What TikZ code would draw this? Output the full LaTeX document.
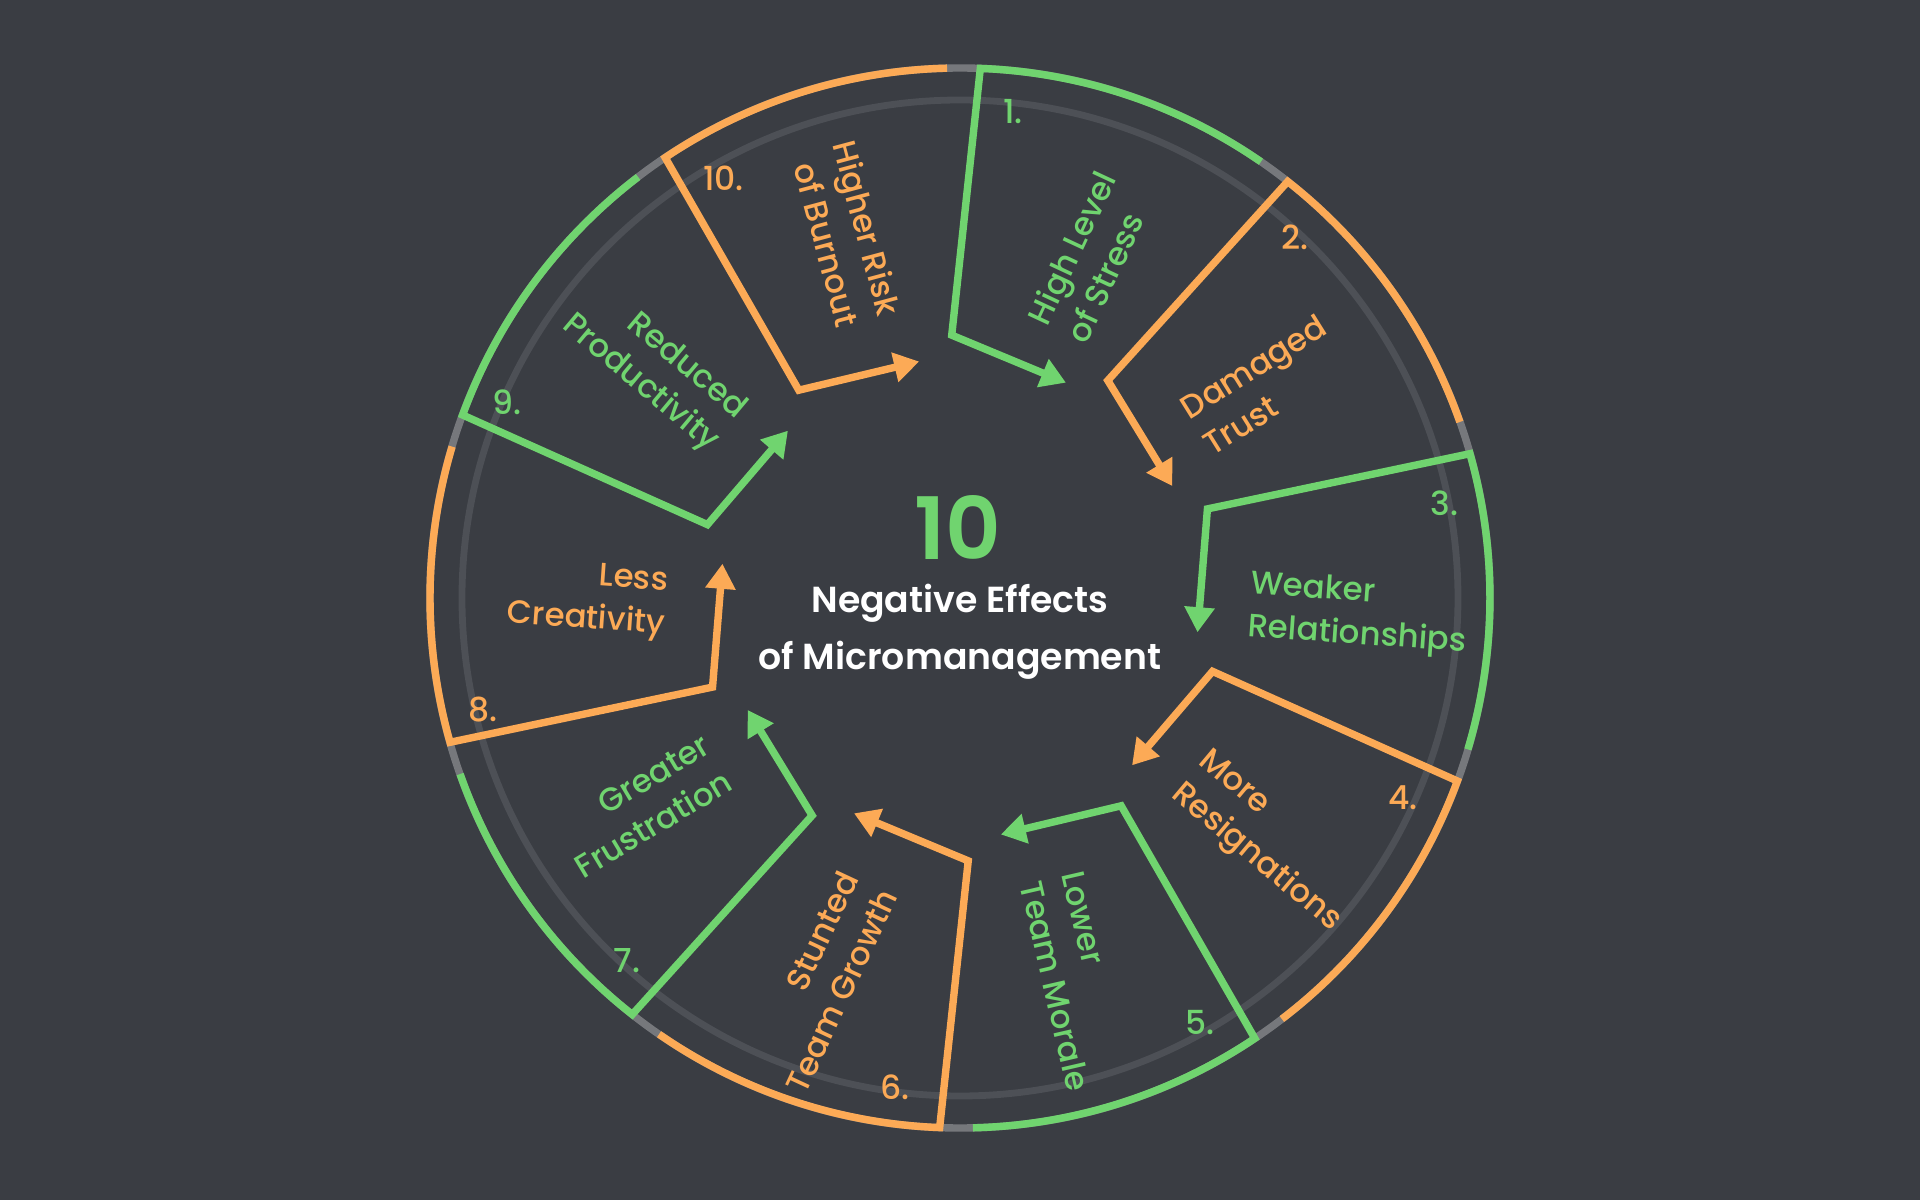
\documentclass[tikz,border=0pt]{standalone}
\usepackage{fontspec}
\setmainfont{Poppins}[UprightFont={* Medium},BoldFont={* SemiBold}]
\usetikzlibrary{arrows.meta}

\definecolor{bg}{HTML}{3A3D43}
\definecolor{mgreen}{HTML}{70D46F}
\definecolor{morange}{HTML}{FCAA56}
\definecolor{ring}{HTML}{4D5056}
\definecolor{gap}{HTML}{76787C}

\begin{document}
\begin{tikzpicture}[
  x=0.01cm,y=0.01cm,
  link/.style={line width=0.74mm,-{Triangle[length=2.5mm,width=2.9mm]}},
  num/.style={font=\fontsize{9.4}{12}\selectfont,inner sep=0pt},
  effect/.style={font=\fontsize{9.2}{12.2}\selectfont,inner sep=0pt},
  title/.style={font=\fontsize{10.3}{16.1}\selectfont\bfseries,inner sep=0pt,align=center}
]
  % Background
  \fill[bg] (-960,-602) rectangle (960,598);
  \useasboundingbox (-960,-602) rectangle (960,598);

  % Rings
  \draw[gap,line width=0.74mm] (0,0) circle[radius=530];
  \draw[ring,line width=0.68mm] (0,0) circle[radius=498];

  % Sectors: outer arc, bend, arrow towards the centre
  \foreach \i/\c in {1/mgreen,2/morange,3/mgreen,4/morange,5/mgreen,
                     6/morange,7/mgreen,8/morange,9/mgreen,10/morange}{
    \pgfmathsetmacro{\a}{87.8-36*(\i-1)}
    \pgfmathsetmacro{\b}{\a-32.4}
    \pgfmathsetmacro{\qa}{\a+4}
    \pgfmathsetmacro{\ta}{\a-24}
    \coordinate (e\i) at (\b:530);
    \coordinate (q\i) at (\qa:263);
    \coordinate (t\i) at (\ta:240);
    \draw[link,\c] (e\i) arc[start angle=\b,end angle=\a,radius=530] -- (q\i) -- (t\i);
  }

  % Numbers
  \foreach \i/\c/\ang/\r in {1/mgreen/83.8/489,2/morange/47.1/492,3/mgreen/11.1/494,
                            4/morange/-24.3/486,5/mgreen/-60.5/488,6/morange/-97.6/494,
                            7/mgreen/-132.6/492,8/morange/-166.8/490,9/mgreen/156.6/494,
                            10/morange/119.4/482}{
    \node[num,\c] (n\i) at (\ang:\r) {\i.};
  }

  % Effects
  \node[effect,mgreen,anchor=west,rotate=65,align=left] (stress) at (70.2:283) {High Level\\of Stress};
  \node[effect,morange,anchor=west,rotate=32,align=left] (trust) at (35.9:289) {Damaged\\Trust};
  \node[effect,mgreen,anchor=west,rotate=-4,align=left] (relations) at (-1.8:289) {Weaker\\Relationships};
  \node[effect,morange,anchor=west,rotate=-40,align=left] (resign) at (-37.7:288) {More\\Resignations};
  \node[effect,mgreen,anchor=west,rotate=-77,align=left] (morale) at (-71.8:293) {Lower\\Team Morale};
  \node[effect,morange,anchor=east,rotate=65,align=right] (growth) at (-107.9:298) {Stunted\\Team Growth};
  \node[effect,mgreen,anchor=east,rotate=31,align=right] (frustration) at (-146.1:291) {Greater\\Frustration};
  \node[effect,morange,anchor=east,rotate=-4,align=right] (creativity) at (-178.6:293) {Less\\Creativity};
  \node[effect,mgreen,anchor=east,rotate=-40,align=right] (productivity) at (144.05:286) {Reduced\\Productivity};
  \node[effect,morange,anchor=east,rotate=-75,align=right] (burnout) at (108:291.5) {Higher Risk\\of Burnout};

  % Centre
  \node[font=\fontsize{24.5}{25}\selectfont\bfseries,mgreen,inner sep=0pt] (ten) at (-2,71) {10};
  \node[title,white] (heading) at (0,-34) {Negative Effects\\of Micromanagement};
\end{tikzpicture}
\end{document}
